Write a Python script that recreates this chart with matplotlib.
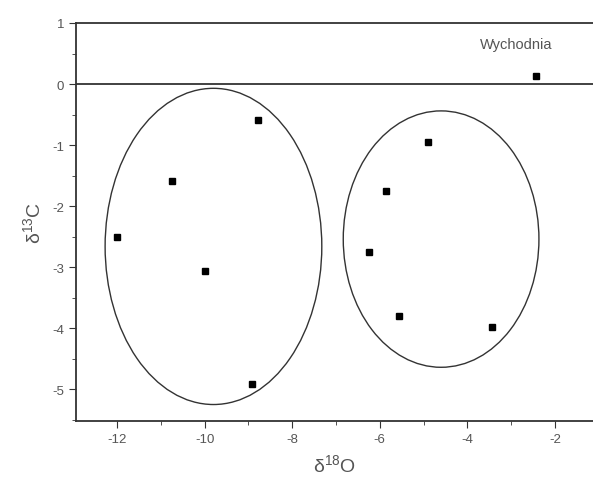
import matplotlib
matplotlib.use("Agg")
import matplotlib.pyplot as plt
from matplotlib.patches import Ellipse
from matplotlib.ticker import MultipleLocator

plt.rcParams['font.family'] = ['Liberation Sans', 'DejaVu Sans']
plt.rcParams['axes.unicode_minus'] = False
plt.rcParams['mathtext.fontset'] = 'custom'
plt.rcParams['mathtext.rm'] = 'Liberation Sans'

# group 1 (left ellipse)
o18_a = [-12.0, -10.74, -8.78, -10.0, -8.92]
c13_a = [-2.5, -1.59, -0.59, -3.07, -4.92]
# group 2 (right ellipse)
o18_b = [-4.9, -5.86, -6.25, -5.56, -3.44]
c13_b = [-0.95, -1.75, -2.75, -3.8, -3.98]
# outcrop sample
o18_w = [-2.43]
c13_w = [0.13]

# ellipses: centre x, centre y, width, height
ell_a = (-9.8, -2.66, 4.95, 5.18)
ell_b = (-4.6, -2.54, 4.47, 4.2)

ink = '#333333'
txt = '#555555'

fig = plt.figure(figsize=(5.93, 4.85), dpi=100)
ax = fig.add_axes([76 / 593, 63 / 485, 1 - 76 / 593, 398 / 485])

ax.plot(o18_a, c13_a, 's', color='black', ms=5)
ax.plot(o18_b, c13_b, 's', color='black', ms=5)
ax.plot(o18_w, c13_w, 's', color='black', ms=5)

for cx, cy, w, h in (ell_a, ell_b):
    ax.add_patch(Ellipse((cx, cy), w, h, fill=False, ec=ink, lw=1.0))

ax.axhline(0, color=ink, lw=1.3)
ax.text(-2.05, 0.66, 'Wychodnia', ha='right', va='center', fontsize=10.5, color=txt)

ax.set_xlim(-12.94, -1.13)
ax.set_ylim(-5.52, 1)
ax.xaxis.set_major_locator(MultipleLocator(2))
ax.xaxis.set_minor_locator(MultipleLocator(1))
ax.yaxis.set_major_locator(MultipleLocator(1))
ax.yaxis.set_minor_locator(MultipleLocator(0.5))

ax.spines['right'].set_visible(False)
for s in ('left', 'bottom', 'top'):
    ax.spines[s].set_color(ink)
    ax.spines[s].set_linewidth(1.3)
ax.tick_params(which='both', direction='out', colors=ink, labelcolor=txt, labelsize=9.5)
ax.tick_params(which='major', length=5)
ax.tick_params(which='minor', length=3)

ax.set_xlabel(r'$\mathrm{\delta^{18}O}$', fontsize=14, color=txt, labelpad=6)
ax.set_ylabel(r'$\mathrm{\delta^{13}C}$', fontsize=14, color=txt, labelpad=6)

fig.savefig('out.png', dpi=100)
